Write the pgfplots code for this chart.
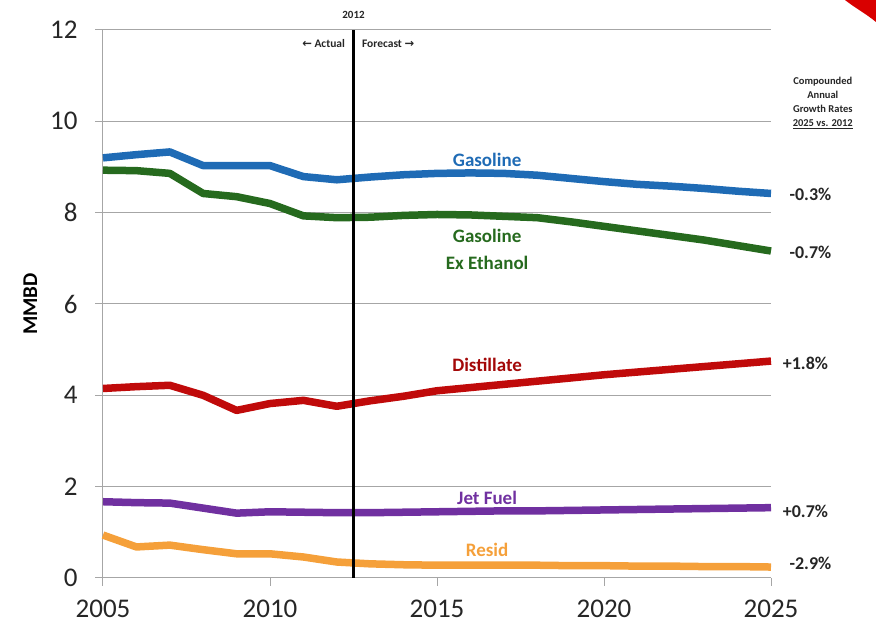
\documentclass[border=0pt]{standalone}
\usepackage{pgfplots}
\pgfplotsset{compat=1.18}
\usepackage{fontspec}
\setmainfont{Carlito}
\newfontfamily\dejavu{DejaVu Sans}
\definecolor{cblue}{RGB}{31,107,181}
\definecolor{cgreen}{RGB}{38,106,30}
\definecolor{cred}{RGB}{192,10,10}
\definecolor{cpurple}{RGB}{112,48,160}
\definecolor{corange}{RGB}{245,160,58}
\definecolor{cgrid}{RGB}{166,166,166}
\begin{document}
\begin{tikzpicture}
\useasboundingbox (-103pt,-53pt) rectangle (773pt,578pt);
\begin{axis}[
  scale only axis,
  width=668pt, height=548pt,
  xmin=2005, xmax=2025, ymin=0, ymax=12,
  xtick={2005,2010,...,2025},
  ytick={0,2,...,12},
  x tick label style={/pgf/number format/1000 sep={}},
  /pgf/number format/assume math mode=true,
  tick label style={font=\fontsize{27}{30}\selectfont, text=black!85},
  axis x line*=bottom, axis y line*=left,
  axis line style={cgrid, line width=1pt},
  ymajorgrids, major grid style={cgrid, line width=1pt},
  tick align=outside, major tick length=8pt,
  tick style={cgrid, line width=1pt},
  xticklabel style={yshift=-10pt},
  yticklabel style={xshift=-14pt},
  ylabel={\textbf{MMBD}},
  ylabel style={font=\fontsize{21}{24}\selectfont, at={(ticklabel cs:0.5)}, anchor=south, yshift=6pt},
  clip=false,
  every axis plot/.append style={line width=7.5pt, line join=round, no markers},
]
\addplot[cblue] coordinates {(2005,9.2)(2006,9.27)(2007,9.33)(2008,9.03)(2009,9.03)(2010,9.03)(2011,8.79)(2012,8.72)(2013,8.78)(2014,8.83)(2015,8.86)(2016,8.87)(2017,8.86)(2018,8.82)(2019,8.75)(2020,8.68)(2021,8.62)(2022,8.58)(2023,8.53)(2024,8.47)(2025,8.42)};
\addplot[cgreen] coordinates {(2005,8.93)(2006,8.92)(2007,8.86)(2008,8.42)(2009,8.35)(2010,8.2)(2011,7.93)(2012,7.89)(2013,7.9)(2014,7.94)(2015,7.96)(2016,7.95)(2017,7.92)(2018,7.89)(2019,7.8)(2020,7.7)(2021,7.6)(2022,7.5)(2023,7.4)(2024,7.28)(2025,7.16)};
\addplot[cred] coordinates {(2005,4.15)(2006,4.19)(2007,4.22)(2008,4.0)(2009,3.67)(2010,3.82)(2011,3.89)(2012,3.76)(2013,3.88)(2014,3.98)(2015,4.1)(2016,4.17)(2017,4.24)(2018,4.31)(2019,4.38)(2020,4.45)(2021,4.51)(2022,4.57)(2023,4.63)(2024,4.69)(2025,4.75)};
\addplot[cpurple] coordinates {(2005,1.67)(2006,1.65)(2007,1.64)(2008,1.53)(2009,1.42)(2010,1.45)(2011,1.44)(2012,1.43)(2013,1.43)(2014,1.44)(2015,1.45)(2016,1.46)(2017,1.47)(2018,1.47)(2019,1.48)(2020,1.49)(2021,1.5)(2022,1.51)(2023,1.52)(2024,1.53)(2025,1.54)};
\addplot[corange] coordinates {(2005,0.94)(2006,0.68)(2007,0.72)(2008,0.62)(2009,0.53)(2010,0.53)(2011,0.46)(2012,0.35)(2013,0.31)(2014,0.29)(2015,0.28)(2016,0.28)(2017,0.28)(2018,0.28)(2019,0.27)(2020,0.27)(2021,0.26)(2022,0.26)(2023,0.25)(2024,0.25)(2025,0.24)};
\addplot[black, line width=3pt, line join=miter] coordinates {(2012.5,0)(2012.5,12)};
% annotations
\node[font=\fontsize{11}{12}\selectfont\bfseries, text=black!85] at (axis cs:2012.5,12.33) {2012};
\node[font=\fontsize{11.5}{12}\selectfont\bfseries, text=black!85, anchor=east] at (axis cs:2012.35,11.7) {{\dejavu\bfseries ←} Actual};
\node[font=\fontsize{11.5}{12}\selectfont\bfseries, text=black!85, anchor=west] at (axis cs:2012.65,11.7) {Forecast {\dejavu\bfseries →}};
\node[font=\fontsize{19}{22}\selectfont\bfseries, text=cblue] at (axis cs:2016.5,9.15) {Gasoline};
\node[font=\fontsize{19}{27}\selectfont\bfseries, text=cgreen, align=center] at (axis cs:2016.5,7.2) {Gasoline\\Ex Ethanol};
\node[font=\fontsize{19}{22}\selectfont\bfseries, text=cred!85!black] at (axis cs:2016.5,4.66) {Distillate};
\node[font=\fontsize{19}{22}\selectfont\bfseries, text=cpurple] at (axis cs:2016.5,1.75) {Jet Fuel};
\node[font=\fontsize{19}{22}\selectfont\bfseries, text=corange] at (axis cs:2016.5,0.61) {Resid};
\node[font=\fontsize{18}{22}\selectfont\bfseries, text=black!85, anchor=west] at (axis cs:2025.45,8.39) {-0.3\%};
\node[font=\fontsize{18}{22}\selectfont\bfseries, text=black!85, anchor=west] at (axis cs:2025.45,7.14) {-0.7\%};
\node[font=\fontsize{18}{22}\selectfont\bfseries, text=black!85, anchor=west] at (axis cs:2025.25,4.71) {+1.8\%};
\node[font=\fontsize{18}{22}\selectfont\bfseries, text=black!85, anchor=west] at (axis cs:2025.25,1.45) {+0.7\%};
\node[font=\fontsize{18}{22}\selectfont\bfseries, text=black!85, anchor=west] at (axis cs:2025.45,0.33) {-2.9\%};
\node[font=\fontsize{10.5}{14}\selectfont\bfseries, text=black!85, align=center] at (axis cs:2026.55,10.4) {Compounded\\Annual\\Growth Rates\\\underline{2025 vs. 2012}};
\end{axis}
\fill[red!85!black] (876pt-103pt,578pt) -- (845pt-103pt,578pt) .. controls (855pt-103pt,570pt) and (865pt-103pt,565pt) .. (876pt-103pt,556pt) -- cycle;
\end{tikzpicture}
\end{document}
